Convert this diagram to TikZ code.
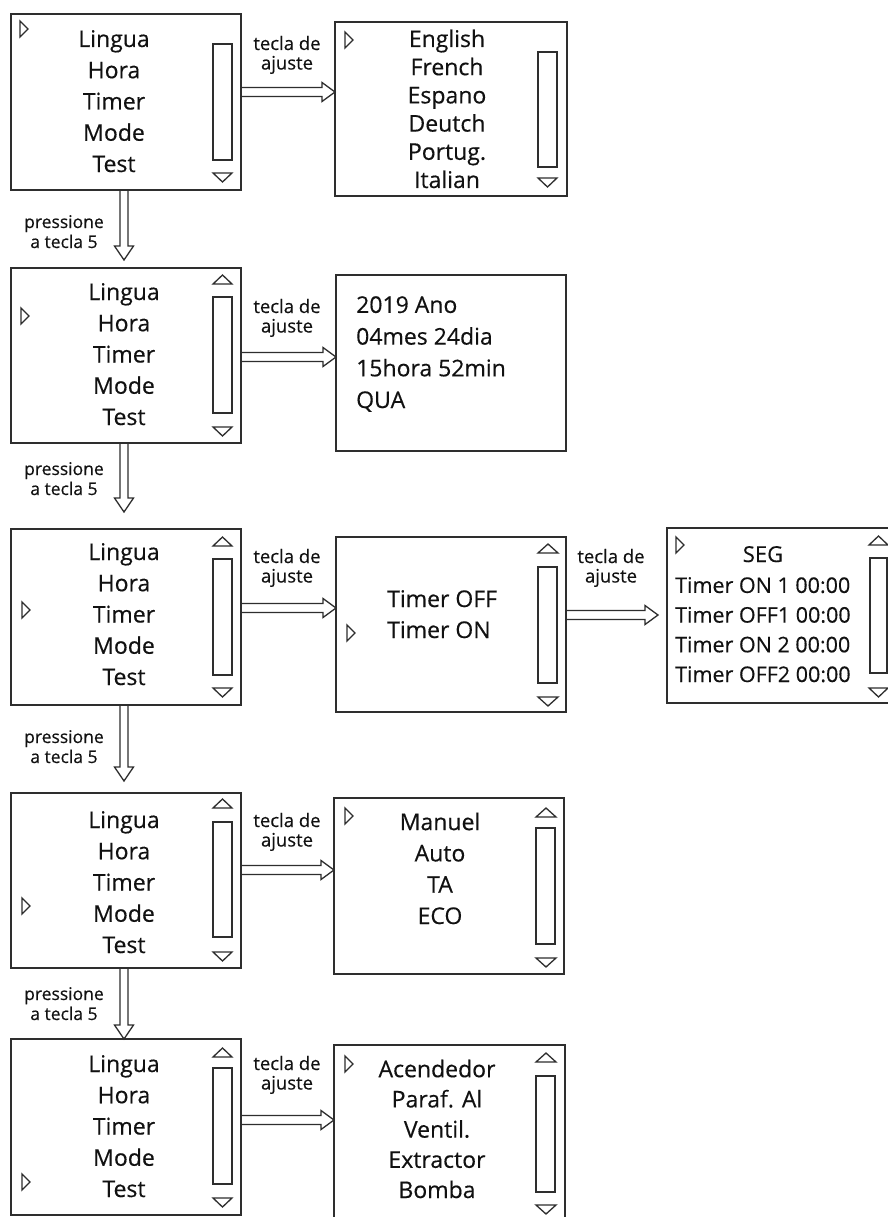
\documentclass[tikz,border=0pt]{standalone}
\usepackage{fontspec}
\setmainfont{Open Sans}[FakeBold=0.35]
\usetikzlibrary{calc}
\definecolor{ln}{HTML}{2E2E2E}
\definecolor{tx}{HTML}{111111}
\newcommand\mkptr[2]{\draw[wid] (#1,#2) -- ++(8,8) -- ++(-8,8) -- cycle;}
\newcommand\mkup[3]{\draw[wid] (#1,#3) -- ({(#1+#2)/2},{#3-9}) -- (#2,#3) -- cycle;}
\newcommand\mkdown[3]{\draw[wid] (#1,#3) -- ({(#1+#2)/2},{#3+9}) -- (#2,#3) -- cycle;}
\newcommand\mkbar[4]{\draw[wid] (#1,#2) rectangle (#3,#4);}
\newcommand\harrow[2]{\draw[arw] let \p1=(#1), \p2=(#2) in
  (\x1,\y1+4.5pt) -- (\x2-13pt,\y1+4.5pt) -- (\x2-13pt,\y1+9.5pt) -- (\x2,\y1)
  -- (\x2-13pt,\y1-9.5pt) -- (\x2-13pt,\y1-4.5pt) -- (\x1,\y1-4.5pt);}
\newcommand\varrow[2]{\draw[arw] let \p1=(#1), \p2=(#2) in
  (\x1-4pt,\y1) -- (\x1-4pt,\y2+14pt) -- (\x1-9.5pt,\y2+14pt) -- (\x1,\y2)
  -- (\x1+9.5pt,\y2+14pt) -- (\x1+4pt,\y2+14pt) -- (\x1+4pt,\y1);}
\begin{document}
\begin{tikzpicture}[x=1pt,y=-1pt,
  panel/.style={draw=ln, line width=1.7pt, inner sep=0pt, outer sep=0pt, anchor=north west, fill=none},
  wid/.style={draw=ln, line width=1.3pt, line join=miter},
  arw/.style={draw=ln, line width=1.3pt, line join=miter},
  menu/.style={text=tx, inner sep=0pt, anchor=base, align=center, font=\fontsize{23}{31.25}\selectfont},
  lab/.style={text=tx, inner sep=0pt, anchor=base, align=center, font=\fontsize{18.5}{19.5}\selectfont},
  plab/.style={text=tx, inner sep=0pt, anchor=base, align=center, font=\fontsize{17.5}{20}\selectfont}]
\useasboundingbox (0,0) rectangle (888,1217);
\fill[white] (0,0) rectangle (888,1217);
\clip (0,0) rectangle (888,1217);
% panels
\node[panel, minimum width=230pt, minimum height=176pt] (b1) at (11,14) {};
\node[panel, minimum width=232pt, minimum height=174pt] (b2) at (335,22) {};
\node[panel, minimum width=230pt, minimum height=175pt] (b3) at (11,268) {};
\node[panel, minimum width=230pt, minimum height=176pt] (b4) at (336,275) {};
\node[panel, minimum width=230pt, minimum height=176pt] (b5) at (11,529) {};
\node[panel, minimum width=230pt, minimum height=175pt] (b6) at (336,537) {};
\node[panel, minimum width=235pt, minimum height=175pt] (b7) at (667,528) {};
\node[panel, minimum width=230pt, minimum height=175pt] (b8) at (11,793) {};
\node[panel, minimum width=230pt, minimum height=176pt] (b9) at (334,798) {};
\node[panel, minimum width=230pt, minimum height=176pt] (b10) at (11,1039) {};
\node[panel, minimum width=231pt, minimum height=176pt] (b11) at (334,1045) {};
% texts (anchor = baseline of the last line)
\node[menu] (m1) at (114,172) {Lingua\\Hora\\Timer\\Mode\\Test};
\node[menu, font=\fontsize{23}{28.2}\selectfont] (m2) at (447,188) {English\\French\\Espano\\Deutch\\Portug.\\Italian};
\node[menu] (m3) at (124,425) {Lingua\\Hora\\Timer\\Mode\\Test};
\node[menu, anchor=base west, align=left, font=\fontsize{23}{31.7}\selectfont] (m4) at (356,408) {2019 Ano\\04mes 24dia\\15hora 52min\\QUA};
\node[menu] (m5) at (124,685) {Lingua\\Hora\\Timer\\Mode\\Test};
\node[menu, anchor=base west, align=left, font=\fontsize{23}{31}\selectfont] (m6) at (387,638) {Timer OFF\\Timer ON};
\node[menu, font=\fontsize{22}{30}\selectfont] (m7a) at (763,562) {SEG};
\node[menu, anchor=base west, align=left, font=\fontsize{21.5}{29.7}\selectfont] (m7b) at (675,682) {Timer ON 1 00:00\\Timer OFF1 00:00\\Timer ON 2 00:00\\Timer OFF2 00:00};
\node[menu] (m8) at (124,953) {Lingua\\Hora\\Timer\\Mode\\Test};
\node[menu, font=\fontsize{23}{31.3}\selectfont] (m9) at (440,924) {Manuel\\Auto\\TA\\ECO};
\node[menu] (m10) at (124,1197) {Lingua\\Hora\\Timer\\Mode\\Test};
\node[menu, font=\fontsize{23}{30.2}\selectfont] (m11) at (437,1198) {Acendedor\\Paraf. Al\\Ventil.\\Extractor\\Bomba};
% widgets
\mkptr{20}{21} \mkbar{213}{44}{232}{160} \mkdown{213}{232}{173}
\mkptr{345}{32} \mkbar{538}{52}{557}{167} \mkdown{538}{557}{178}
\mkptr{21}{308} \mkup{213}{232}{284} \mkbar{213}{297}{232}{413} \mkdown{213}{232}{427}
\mkptr{22}{602} \mkup{213}{232}{546} \mkbar{213}{559}{232}{675} \mkdown{213}{232}{688}
\mkptr{347}{625} \mkup{538}{558}{553} \mkbar{538}{567}{557}{683} \mkdown{538}{558}{697}
\mkptr{676}{537} \mkup{869}{888}{545} \mkbar{870}{558}{887}{673} \mkdown{869}{888}{688}
\mkptr{22}{898} \mkup{213}{232}{808} \mkbar{213}{822}{232}{937} \mkdown{213}{232}{952}
\mkptr{345}{808} \mkup{536}{556}{817} \mkbar{536}{828}{555}{944} \mkdown{536}{556}{958}
\mkptr{22}{1174} \mkup{213}{232}{1057} \mkbar{213}{1068}{232}{1184} \mkdown{213}{232}{1198}
\mkptr{345}{1056} \mkup{536}{556}{1062} \mkbar{536}{1076}{555}{1192} \mkdown{536}{556}{1205}
% horizontal connectors
\coordinate (s1) at (b1.east |- 0,92);   \coordinate (e1) at (b2.west |- 0,92);
\coordinate (s2) at (b3.east |- 0,357);  \coordinate (e2) at (b4.west |- 0,357);
\coordinate (s3) at (b5.east |- 0,608);  \coordinate (e3) at (b6.west |- 0,608);
\coordinate (s4) at (b6.east |- 0,615);  \coordinate (e4) at ($(b7.west |- 0,615)+(-9,0)$);
\coordinate (s5) at (b8.east |- 0,870);  \coordinate (e5) at (b9.west |- 0,870);
\coordinate (s6) at (b10.east |- 0,1120); \coordinate (e6) at (b11.west |- 0,1120);
\harrow{s1}{e1} \harrow{s2}{e2} \harrow{s3}{e3} \harrow{s4}{e4} \harrow{s5}{e5} \harrow{s6}{e6}
% vertical connectors
\coordinate (d1) at (b1.south -| 124,0);  \coordinate (f1) at (124,260);
\coordinate (d2) at (b3.south -| 124,0);  \coordinate (f2) at (124,512);
\coordinate (d3) at (b5.south -| 124,0);  \coordinate (f3) at (124,781);
\coordinate (d4) at (b8.south -| 124,0);  \coordinate (f4) at (b10.north -| 124,0);
\varrow{d1}{f1} \varrow{d2}{f2} \varrow{d3}{f3} \varrow{d4}{f4}
% labels
\node[lab] (t1) at (287,69.5) {tecla de\\ajuste};
\node[lab] (t2) at (287,332.5) {tecla de\\ajuste};
\node[lab] (t3) at (287,582.5) {tecla de\\ajuste};
\node[lab] (t4) at (611,582.5) {tecla de\\ajuste};
\node[lab] (t5) at (287,846.5) {tecla de\\ajuste};
\node[lab] (t6) at (287,1089.5) {tecla de\\ajuste};
\node[plab] (p1) at (64,248) {pressione\\a tecla 5};
\node[plab] (p2) at (64,495) {pressione\\a tecla 5};
\node[plab] (p3) at (64,763) {pressione\\a tecla 5};
\node[plab] (p4) at (64,1020) {pressione\\a tecla 5};
\end{tikzpicture}
\end{document}
